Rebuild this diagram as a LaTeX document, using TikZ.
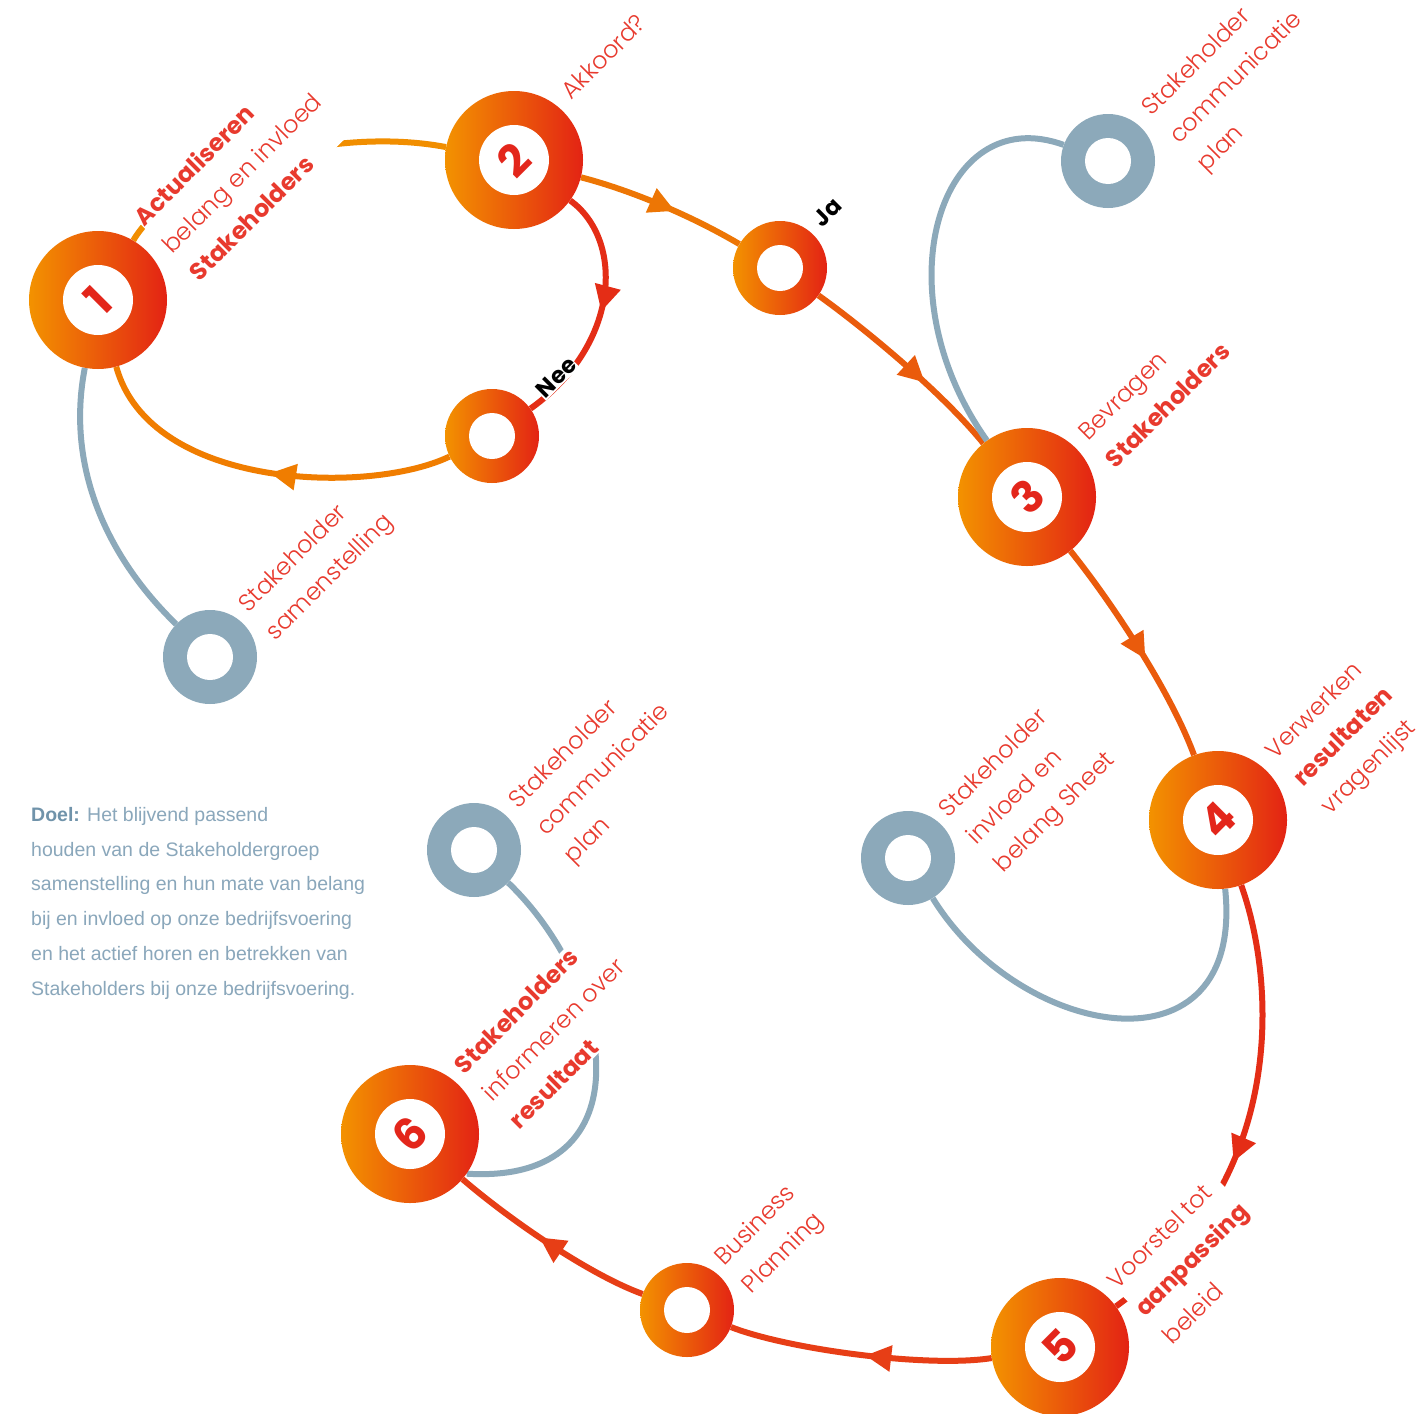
\documentclass[tikz,border=0pt]{standalone}
\usepackage{fontspec}
\IfFontExistsTF{Poppins Light}{\newfontfamily\lblfont{Poppins Light}[BoldFont={Poppins Bold}]}{\newfontfamily\lblfont{Poppins}}
\newfontfamily\doelfont{Liberation Sans}
\usetikzlibrary{arrows.meta,decorations.markings}
\pgfdeclarelayer{bgl}
\pgfdeclarelayer{lines}
\pgfsetlayers{bgl,lines,main}
\definecolor{cOr}{RGB}{243,146,0}
\definecolor{cMid}{RGB}{233,90,26}
\definecolor{cRd}{RGB}{227,35,20}
\definecolor{cTxt}{RGB}{232,58,46}
\definecolor{cDig}{RGB}{227,38,27}
\definecolor{cGray}{RGB}{140,169,186}
\definecolor{cDoel}{RGB}{138,167,187}
\definecolor{cDoelB}{RGB}{112,147,170}
\definecolor{lOr}{RGB}{241,142,0}
\definecolor{lOrB}{RGB}{240,125,0}
\definecolor{lOr2}{RGB}{237,118,5}
\definecolor{lOr3}{RGB}{234,91,12}
\definecolor{lRd}{RGB}{228,45,22}
\definecolor{lRd2}{RGB}{231,62,22}
\tikzset{
  bigring/.style={circle, minimum size=138pt, inner sep=0pt, left color=cOr, middle color=cMid, right color=cRd,
    path picture={\fill[white] (path picture bounding box.center) circle[radius=35pt];}},
  smallring/.style={circle, minimum size=94pt, inner sep=0pt, left color=cOr, middle color=cMid, right color=cRd,
    path picture={\fill[white] (path picture bounding box.center) circle[radius=23pt];}},
  grayring/.style={circle, minimum size=94pt, inner sep=0pt, fill=cGray,
    path picture={\fill[white] (path picture bounding box.center) circle[radius=23pt];}},
  digitlbl/.style={font=\lblfont\bfseries\fontsize{44}{44}\selectfont, text=cDig, rotate=45, inner sep=0pt},
  lbl/.style={font=\lblfont\fontsize{24}{39}\selectfont, text=cTxt, align=left, rotate=45, anchor=base west, inner sep=1pt},
  janee/.style={font=\lblfont\bfseries\fontsize{23}{23}\selectfont, text=black, rotate=45, anchor=base west, inner sep=1pt},
  doel/.style={font=\doelfont\fontsize{19.5}{34.7}\selectfont, text=cDoel, align=left, anchor=base west, inner sep=0pt},
  conn/.style={line width=6pt},
  gconn/.style={line width=6pt, draw=cGray},
  midarrow/.style={postaction={decorate}, decoration={markings, mark=at position #1 with {\arrow{Triangle[length=26pt,width=25pt]}}}}
}
\begin{document}
\begin{tikzpicture}[x=1pt,y=-1pt]
\begin{pgfonlayer}{bgl}
\fill[white] (0,0) rectangle (1426,1413);
\end{pgfonlayer}
\path[use as bounding box] (0,0) rectangle (1426,1413);

% main nodes
\node[bigring] (n1) at (98,300) {};
\node[bigring] (n2) at (514,160) {};
\node[bigring] (n3) at (1027,497) {};
\node[bigring] (n4) at (1218,820) {};
\node[bigring] (n5) at (1060,1347) {};
\node[bigring] (n6) at (410,1134) {};
\node[digitlbl] (d1) at (n1) {1};
\node[digitlbl] (d2) at (n2) {2};
\node[digitlbl] (d3) at (n3) {3};
\node[digitlbl] (d4) at (n4) {4};
\node[digitlbl] (d5) at (n5) {5};
\node[digitlbl] (d6) at (n6) {6};
\node[smallring] (ja) at (780,268) {};
\node[smallring] (nee) at (492,436) {};
\node[smallring] (bp) at (687,1310) {};
\node[grayring] (g1) at (210,657) {};
\node[grayring] (g2) at (1108,161) {};
\node[grayring] (g3) at (908,858) {};
\node[grayring] (g4) at (474,850) {};

\begin{pgfonlayer}{lines}
\draw[conn, draw=lOr] (n1) .. controls (175,170) and (330,125) .. (n2);
\draw[conn, draw=lRd, midarrow=0.5] (n2) .. controls (625,240) and (620,345) .. (nee);
\draw[conn, draw=lOrB, midarrow=0.48] (nee) .. controls (370,495) and (150,490) .. (n1);
\draw[conn, draw=lOr2, midarrow=0.58] (n2) .. controls (630,190) and (690,215) .. (ja);
\draw[conn, draw=lOr3, midarrow=0.62] (ja) .. controls (860,325) and (940,390) .. (n3);
\draw[conn, draw=lOr3, midarrow=0.55] (n3) .. controls (1110,600) and (1170,690) .. (n4);
\draw[conn, draw=lRd, midarrow=0.6] (n4) .. controls (1275,980) and (1290,1180) .. (n5);
\draw[conn, draw=lRd2, midarrow=0.48] (n5) .. controls (930,1368) and (790,1350) .. (bp);
\draw[conn, draw=lRd2, midarrow=0.55] (bp) .. controls (590,1275) and (510,1220) .. (n6);
\draw[gconn] (n1) .. controls (65,470) and (110,560) .. (g1);
\draw[gconn] (g2) .. controls (940,100) and (880,290) .. (n3);
\draw[gconn] (g3) .. controls (1020,1040) and (1245,1080) .. (n4);
\draw[gconn] (g4) .. controls (615,985) and (650,1185) .. (n6.-35);
\end{pgfonlayer}

% labels (anchor at the start of the last line's baseline)
\node[lbl, fill=white] (t1) at (199,283) {\textbf{Actualiseren}\\belang en invloed\\\textbf{Stakeholders}};
\node[lbl] (t2) at (571,101) {Akkoord?};
\node[lbl] (tg2) at (1206,173) {Stakeholder\\communicatie\\plan};
\node[janee] (tja) at (822,229) {Ja};
\node[janee, fill=white] (tnee) at (545,400) {Nee};
\node[lbl] (t3) at (1115,470) {Bevragen\\\textbf{Stakeholders}};
\node[lbl] (tg1) at (275,642) {Stakeholder\\samenstelling};
\node[lbl] (t4) at (1330,816) {Verwerken\\\textbf{resultaten}\\vragenlijst};
\node[lbl] (tg3) at (1003,874) {Stakeholder\\invloed en\\belang Sheet};
\node[lbl] (tg4) at (573,865) {Stakeholder\\communicatie\\plan};
\node[lbl, fill=white] (t6) at (519,1131) {\textbf{Stakeholders}\\informeren over\\\textbf{resultaat}};
\node[lbl] (tbp) at (751,1295) {Business\\Planning};
\node[lbl, fill=white] (t5) at (1172,1346) {Voorstel tot\\\textbf{aanpassing}\\beleid};

\node[doel] (doel) at (31,995) {{\bfseries\color{cDoelB}Doel:} Het blijvend passend\\houden van de Stakeholdergroep\\samenstelling en hun mate van belang\\bij en invloed op onze bedrijfsvoering\\en het actief horen en betrekken van\\Stakeholders bij onze bedrijfsvoering.};
\end{tikzpicture}
\end{document}
